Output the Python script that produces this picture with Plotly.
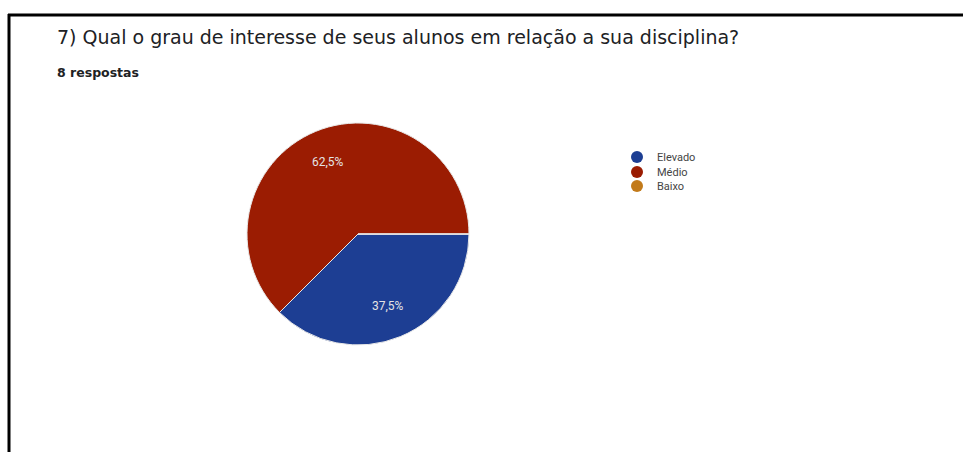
import math
import plotly.graph_objects as go

# Survey responses for question 7
categories = ["Elevado", "Médio", "Baixo"]
counts = [3, 5, 0]
colors = ["#1d3e93", "#9b1c02", "#c27a1a"]
title_text = "7) Qual o grau de interesse de seus alunos em relação a sua disciplina?"
subtitle_text = "8 respostas"

W, H = 963, 452


def px_x(x):
    return x / W


def px_y(y):
    return 1 - y / H


# Pie geometry (pixels): centre and radius
cx, cy, r = 358, 234, 111
start_deg = 0.0  # first slice starts at 3 o'clock and runs clockwise

fig = go.Figure()

fig.add_trace(go.Pie(
    labels=categories,
    values=counts,
    sort=False,
    direction="clockwise",
    rotation=90,
    marker=dict(colors=colors, line=dict(color="#e8e8e8", width=1)),
    textinfo="none",
    showlegend=False,
    hoverinfo="label+percent",
    domain=dict(x=[px_x(cx - r), px_x(cx + r)], y=[px_y(cy + r), px_y(cy - r)]),
))

# Percentage labels placed along each slice's bisector
total = sum(counts)
angle = start_deg
for name, val in zip(categories, counts):
    span = 360.0 * val / total
    if val > 0:
        mid = math.radians(angle + span / 2)
        lx = cx + 0.70 * r * math.cos(mid)
        ly = cy + 0.70 * r * math.sin(mid)
        pct = f"{100 * val / total:.1f}".replace(".", ",") + "%"
        fig.add_annotation(
            text=pct, x=px_x(lx), y=px_y(ly), xref="paper", yref="paper",
            xanchor="center", yanchor="middle", showarrow=False,
            font=dict(family="Roboto, Arial, sans-serif", size=12, color="#e4e4e4"),
        )
    angle += span

# Legend entries with round markers, one compact row each
legend_rows = [157, 172, 186]
legend_names = ["legend", "legend2", "legend3"]
for name, col, lg in zip(categories, colors, legend_names):
    fig.add_trace(go.Scatter(
        x=[None], y=[None], mode="markers", name=name,
        marker=dict(symbol="circle", size=12, color=col),
        showlegend=True, legend=lg,
    ))

legend_style = dict(
    xanchor="left", yanchor="middle",
    font=dict(family="Roboto, Arial, sans-serif", size=11, color="#444444"),
    itemwidth=30, bgcolor="rgba(0,0,0,0)", borderwidth=0,
)

fig.update_layout(
    width=W, height=H,
    margin=dict(l=0, r=0, t=0, b=0),
    paper_bgcolor="white",
    plot_bgcolor="white",
    xaxis=dict(visible=False),
    yaxis=dict(visible=False),
    legend=dict(x=px_x(617), y=px_y(legend_rows[0]), **legend_style),
    legend2=dict(x=px_x(617), y=px_y(legend_rows[1]), **legend_style),
    legend3=dict(x=px_x(617), y=px_y(legend_rows[2]), **legend_style),
    font=dict(family="Roboto, Arial, sans-serif"),
)

fig.add_annotation(
    text=title_text, x=px_x(55), y=px_y(37), xref="paper", yref="paper",
    xanchor="left", yanchor="middle", showarrow=False,
    font=dict(family="DejaVu Sans, Arial, sans-serif", size=19, color="#202124"),
)
fig.add_annotation(
    text="<b>" + subtitle_text + "</b>", x=px_x(55), y=px_y(73), xref="paper", yref="paper",
    xanchor="left", yanchor="middle", showarrow=False,
    font=dict(family="DejaVu Sans, Arial, sans-serif", size=12.5, color="#202124"),
)

# Frame lines along the top and left edges
fig.add_shape(type="line", xref="paper", yref="paper",
              x0=px_x(8), x1=1, y0=px_y(15), y1=px_y(15),
              line=dict(color="black", width=3))
fig.add_shape(type="line", xref="paper", yref="paper",
              x0=px_x(9), x1=px_x(9), y0=px_y(14), y1=0,
              line=dict(color="black", width=3))

fig.write_html("out.html")
